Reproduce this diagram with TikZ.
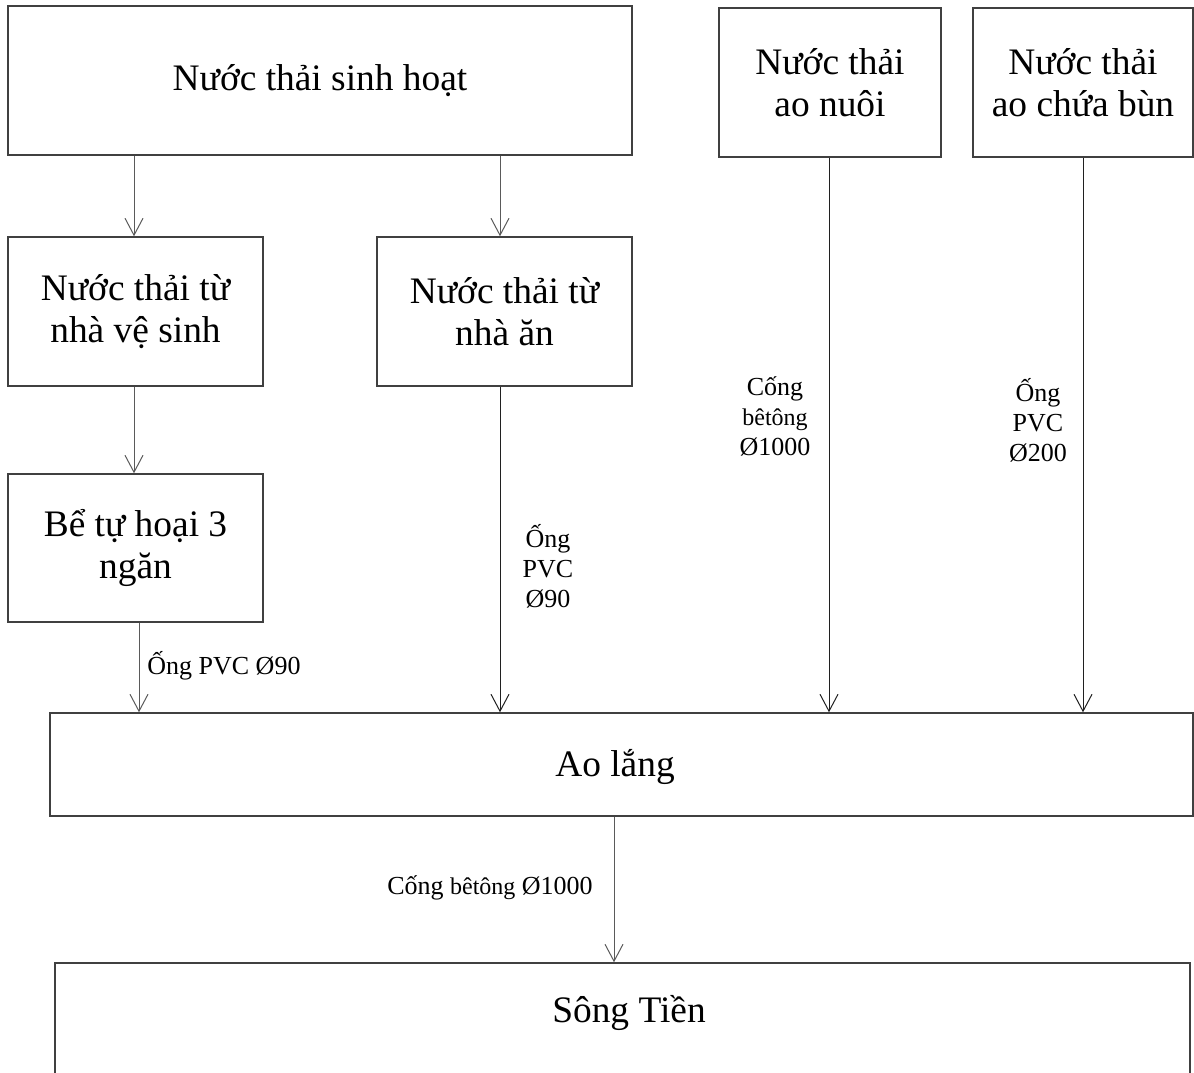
\documentclass[tikz,border=0pt]{standalone}
\usepackage{fontspec}
\setmainfont{Liberation Serif}
\usetikzlibrary{arrows.meta}
\definecolor{boxgray}{HTML}{404040}
\definecolor{arrgray}{HTML}{5A5A5A}
\definecolor{arrdark}{HTML}{202020}
\begin{document}
\begin{tikzpicture}[x=0.5pt,y=-0.5pt,
  box/.style={draw=boxgray, line width=0.7pt, rectangle, inner sep=0pt,
    font=\fontsize{18.7}{21}\selectfont, align=center},
  bigtext/.style={font=\fontsize{18.7}{21}\selectfont, align=center, inner sep=0pt},
  pipelabel/.style={font=\fontsize{13}{15}\selectfont, align=center, inner sep=0pt},
  flow/.style={draw=arrgray, line width=0.5pt, -{Straight Barb[length=8.5pt,width=9pt]}},
  flowdark/.style={flow, draw=arrdark},
  ]
\useasboundingbox (0,0) rectangle (1194,1072);

% boxes
\node[box, minimum width=312pt, minimum height=74.5pt] (A) at (320,80.5) {Nước thải sinh hoạt};
\node[box, minimum width=111pt, minimum height=74.5pt] (N) at (830,82.5) {Nước thải\\ao nuôi};
\node[box, minimum width=110pt, minimum height=74.5pt] (B) at (1083,82.5) {Nước thải\\ao chứa bùn};
\node[box, minimum width=127.5pt, minimum height=74.5pt] (V) at (135.5,311.5) {Nước thải từ\\nhà vệ sinh};
\node[box, minimum width=127.5pt, minimum height=74.5pt] (E) at (504.5,311.5) {Nước thải từ\\nhà ăn};
\node[box, minimum width=127.5pt, minimum height=74pt] (T) at (135.5,548) {Bể tự hoại 3\\ngăn};
\node[box, minimum width=571.5pt, minimum height=51.5pt] (L) at (621.5,764.5) {};
\node[bigtext] (Lt) at (615,767) {Ao lắng};
\node[box, minimum width=567.5pt, minimum height=68.5pt] (S) at (622.5,1031.5) {};
\node[bigtext] (St) at (629,1013) {Sông Tiền};

% helper x positions
\coordinate (x500) at (500,0);
\coordinate (x139) at (139,0);
\coordinate (x614) at (614,0);
\coordinate (x829) at (829,0);
\coordinate (x134) at (134,0);

% connectors
\draw[flow] (A.south -| x134) -- (V.north -| x134);
\draw[flow] (A.south -| x500) -- (E.north -| x500);
\draw[flow] (V.south -| x134) -- (T.north -| x134);
\draw[flow] (T.south -| x139) -- (L.north -| x139);
\draw[flowdark] (E.south -| x500) -- (L.north -| x500);
\draw[flowdark] (N.south -| x829) -- (L.north -| x829);
\draw[flowdark] (B.south) -- (L.north -| B.south);
\draw[flow] (L.south -| x614) -- (S.north -| x614);

% pipe labels
\node[pipelabel, anchor=west] (p1) at (147,666) {Ống PVC Ø90};
\node[pipelabel] (p2) at (548,566) {Ống\\PVC\\Ø90};
\node[pipelabel] (p3) at (775,416) {Cống\\{\fontsize{12}{15}\selectfont bêtông}\\Ø1000};
\node[pipelabel] (p4) at (1038,420) {Ống\\PVC\\Ø200};
\node[pipelabel] (p5) at (490,888) {Cống {\fontsize{12}{15}\selectfont bêtông} Ø1000};
\end{tikzpicture}
\end{document}
